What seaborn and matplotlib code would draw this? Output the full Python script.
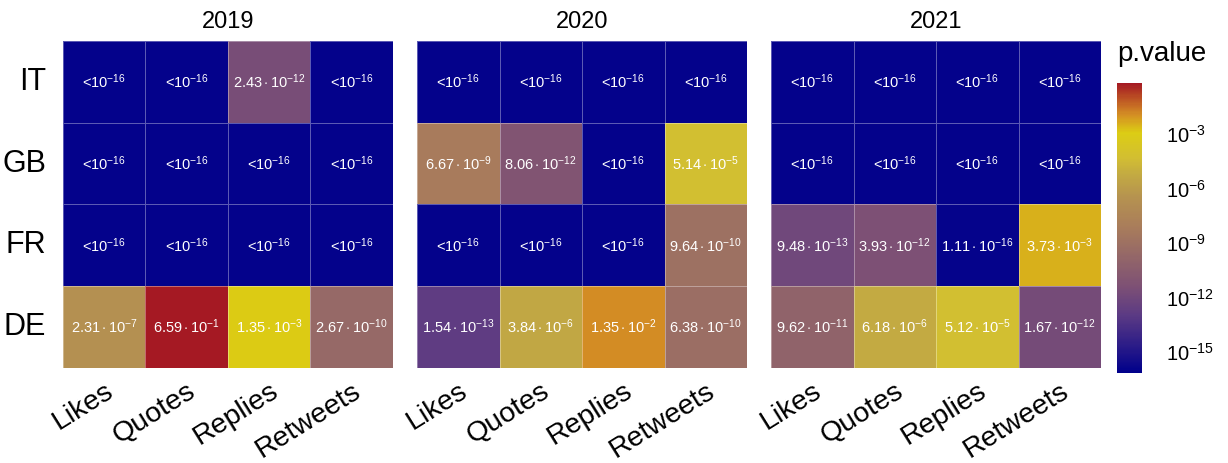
import numpy as np
import pandas as pd
import matplotlib
matplotlib.use("Agg")
import matplotlib.pyplot as plt
import seaborn as sns
from matplotlib.colors import LogNorm, LinearSegmentedColormap
from matplotlib.ticker import LogFormatterMathtext, NullLocator

# --- data -------------------------------------------------------------
years = ["2019", "2020", "2021"]
countries = ["IT", "GB", "FR", "DE"]
metrics = ["Likes", "Quotes", "Replies", "Retweets"]

LOW = 1e-16  # stands for "<10^-16"

# rows: IT, GB, FR, DE ; columns: Likes, Quotes, Replies, Retweets
p_2019 = [[LOW, LOW, 2.43e-12, LOW],
          [LOW, LOW, LOW, LOW],
          [LOW, LOW, LOW, LOW],
          [2.31e-7, 6.59e-1, 1.35e-3, 2.67e-10]]
p_2020 = [[LOW, LOW, LOW, LOW],
          [6.67e-9, 8.06e-12, LOW, 5.14e-5],
          [LOW, LOW, LOW, 9.64e-10],
          [1.54e-13, 3.84e-6, 1.35e-2, 6.38e-10]]
p_2021 = [[LOW, LOW, LOW, LOW],
          [LOW, LOW, LOW, LOW],
          [9.48e-13, 3.93e-12, 1.11e-16, 3.73e-3],
          [9.62e-11, 6.18e-6, 5.12e-5, 1.67e-12]]
# "<" marks values below the reporting floor
below_2019 = [[1, 1, 0, 1], [1, 1, 1, 1], [1, 1, 1, 1], [0, 0, 0, 0]]
below_2020 = [[1, 1, 1, 1], [0, 0, 1, 0], [1, 1, 1, 0], [0, 0, 0, 0]]
below_2021 = [[1, 1, 1, 1], [1, 1, 1, 1], [0, 0, 0, 0], [0, 0, 0, 0]]

cbar_ticks = [1e-15, 1e-12, 1e-9, 1e-6, 1e-3]

# --- style ------------------------------------------------------------
sns.set_style("white")
plt.rcParams["font.family"] = ["Liberation Sans", "DejaVu Sans"]
plt.rcParams["text.color"] = "black"
plt.rcParams["xtick.color"] = "black"
plt.rcParams["ytick.color"] = "black"
plt.rcParams["mathtext.fontset"] = "custom"
plt.rcParams["mathtext.rm"] = "Liberation Sans"
plt.rcParams["mathtext.it"] = "Liberation Sans:italic"
plt.rcParams["mathtext.bf"] = "Liberation Sans:bold"

lo, hi = -16.15, -0.18
anchors = [(-16.15, "#00008B"), (-13.0, "#5B3A84"), (-11.4, "#7D5075"),
           (-9.5, "#976A66"), (-8.0, "#AA7E5A"), (-6.5, "#B59250"),
           (-5.2, "#C3AA42"), (-4.3, "#D2BE32"), (-2.9, "#DCCD14"),
           (-1.9, "#D48E24"), (-0.18, "#A51923")]
cmap = LinearSegmentedColormap.from_list(
    "pv", [((v - lo) / (hi - lo), c) for v, c in anchors])
norm = LogNorm(vmin=10 ** lo, vmax=10 ** hi)


def fmt_p(v, below):
    if below:
        return r"<$10^{-16}$"
    e = int(np.floor(np.log10(v)))
    m = v / 10 ** e
    return r"$%.2f\cdot10^{%d}$" % (m, e)


fig = plt.figure(figsize=(12.28, 4.63), dpi=100)
lefts = [0.0513, 0.3396, 0.6279]
cax = fig.add_axes([0.9096, 0.1944, 0.0204, 0.6263])

for i, (year, vals, below) in enumerate(zip(years, [p_2019, p_2020, p_2021],
                                            [below_2019, below_2020, below_2021])):
    ax = fig.add_axes([lefts[i], 0.2052, 0.2687, 0.7063])
    df = pd.DataFrame(vals, index=countries, columns=metrics)
    labels = np.array([[fmt_p(v, b) for v, b in zip(rv, rb)]
                       for rv, rb in zip(vals, below)])
    sns.heatmap(df, ax=ax, cmap=cmap, norm=norm, annot=labels, fmt="",
                annot_kws={"color": "white", "fontsize": 10.5},
                linewidths=0.6, linecolor=(1, 1, 1, 0.35),
                cbar=(i == 2), cbar_ax=cax if i == 2 else None)
    ax.set_title(year, fontsize=17, pad=9, color="black")
    ax.set_xlabel("")
    ax.set_ylabel("")
    ax.tick_params(length=0)
    ax.set_xticklabels(metrics, rotation=32, ha="right", va="top",
                       rotation_mode="anchor", fontsize=20.5, color="black")
    if i == 0:
        ax.set_yticklabels(countries, rotation=0, fontsize=22, color="black")
        ax.tick_params(axis="y", pad=12)
    else:
        ax.set_yticklabels([])
    ax.tick_params(axis="x", pad=7)

# colorbar
cax.yaxis.set_ticks(cbar_ticks)
cax.yaxis.set_major_formatter(LogFormatterMathtext())
cax.yaxis.set_minor_locator(NullLocator())
cax.tick_params(axis="y", which="major", direction="in", left=True, right=True,
                length=5, width=1, color="white", labelsize=14.5, pad=17,
                labelcolor="black")
for s in cax.spines.values():
    s.set_visible(False)
fig.text(0.9096, 0.855, "p.value", fontsize=20, ha="left", va="bottom")

fig.savefig("out.png", dpi=100)
